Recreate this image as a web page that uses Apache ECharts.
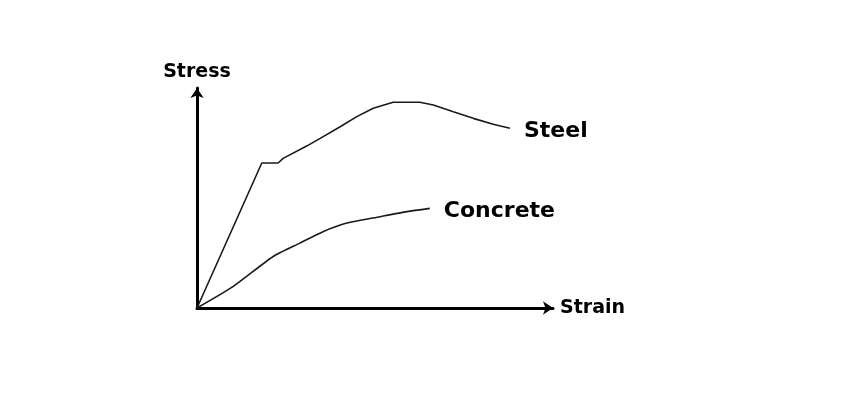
<!DOCTYPE html>
<html>
<head>
<meta charset="utf-8">
<script src="https://cdn.jsdelivr.net/npm/echarts@6/dist/echarts.min.js"></script>
<style>html,body{margin:0;padding:0;background:#fff}#c{width:846px;height:400px}</style>
</head>
<body>
<div id="c"></div>
<script>
const axisNames = { x: 'Strain', y: 'Stress' };
const steelName = 'Steel';
const steelX = [0, 18.2, 22.8, 24.2, 30.8, 34.6, 40.2, 44.9, 49.5, 55.1, 62.6, 66.4, 72.0, 77.6, 83.2, 87.9];
const steelY = [0, 65.9, 65.9, 68.0, 73.6, 77.1, 82.4, 87.0, 90.8, 93.5, 93.5, 92.3, 89.2, 86.2, 83.5, 81.7];
const concreteName = 'Concrete';
const concreteX = [0, 10.1, 21.3, 28.9, 35.4, 42.1, 51.4, 59.0, 65.4];
const concreteY = [0, 9.7, 23.3, 29.5, 34.7, 38.6, 41.5, 43.8, 45.3];

const zip = (xs, ys) => xs.map((x, i) => [x, ys[i]]);
const font = '"DejaVu Sans", Verdana, sans-serif';

const chart = echarts.init(document.getElementById('c'), null, { renderer: 'canvas' });
const lineSeries = (name, xs, ys, smooth) => ({
  type: 'line', name, data: zip(xs, ys), showSymbol: false, smooth,
  lineStyle: { color: '#1a1a1a', width: 1.6 },
  endLabel: {
    show: true, formatter: name, distance: 14, offset: [0, 3], color: '#000',
    fontFamily: font, fontWeight: 'bold', fontSize: 22
  },
  animation: false
});
chart.setOption({
  backgroundColor: '#fff',
  animation: false,
  grid: { left: 197, right: 293, top: 88, bottom: 92, containLabel: false },
  xAxis: {
    type: 'value', min: 0, max: 100,
    name: axisNames.x, nameLocation: 'end', nameGap: 7,
    nameTextStyle: { color: '#000', fontFamily: font, fontWeight: 'bold', fontSize: 19, verticalAlign: 'middle', align: 'left' },
    axisLine: { show: true, onZero: false, symbol: ['none', 'arrow'], symbolSize: [10, 10], lineStyle: { color: '#000', width: 3 } },
    axisTick: { show: false }, axisLabel: { show: false }, splitLine: { show: false }
  },
  yAxis: {
    type: 'value', min: 0, max: 100,
    name: axisNames.y, nameLocation: 'end', nameGap: 6,
    nameTextStyle: { color: '#000', fontFamily: font, fontWeight: 'bold', fontSize: 19, align: 'center', verticalAlign: 'bottom' },
    axisLine: { show: true, onZero: false, symbol: ['none', 'arrow'], symbolSize: [10, 10], lineStyle: { color: '#000', width: 3 } },
    axisTick: { show: false }, axisLabel: { show: false }, splitLine: { show: false }
  },
  series: [
    lineSeries(steelName, steelX, steelY, false),
    lineSeries(concreteName, concreteX, concreteY, 0.2)
  ]
});
</script>
</body>
</html>
